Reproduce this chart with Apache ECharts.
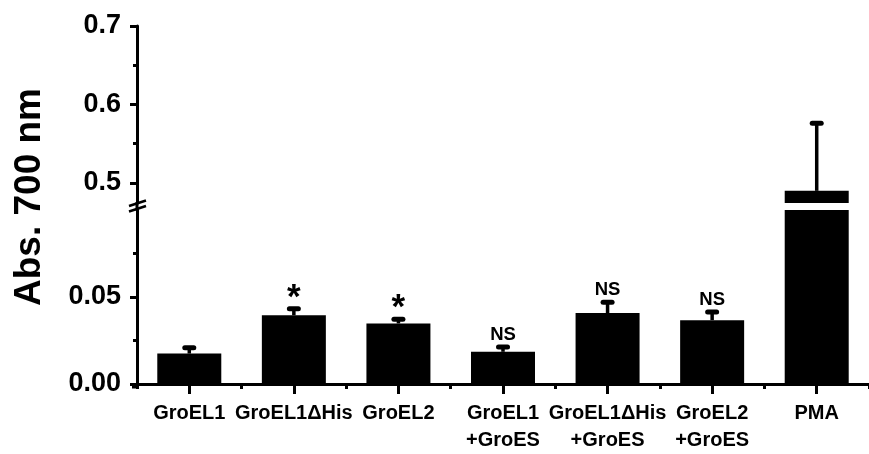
<!DOCTYPE html>
<html><head><meta charset="utf-8">
<script src="https://cdn.jsdelivr.net/npm/echarts@6/dist/echarts.min.js"></script>
<style>html,body{margin:0;padding:0;background:#fff}#c{width:869px;height:454px}</style>
</head><body><div id="c"></div>
<script>
const categories = ['GroEL1', 'GroEL1\u0394His', 'GroEL2', 'GroEL1\n+GroES', 'GroEL1\u0394His\n+GroES', 'GroEL2\n+GroES', 'PMA'];
const means = [0.0175, 0.0395, 0.0348, 0.0185, 0.0408, 0.0367, 0.49];
const sems = [0.0033, 0.0038, 0.0024, 0.0028, 0.0062, 0.0047, 0.086];
const marks = ['', '*', '*', 'NS', 'NS', 'NS', ''];
const lowerRange = [0, 0.1];
const upperRange = [0.4745, 0.7];
const lowerTicks = [0, 0.05];
const lowerMinor = [0.025, 0.075];
const upperTicks = [0.5, 0.6, 0.7];
const upperMinor = [0.55, 0.65];

const FONT = '"Liberation Sans", Arial, sans-serif';
const chart = echarts.init(document.getElementById('c'), null, {renderer: 'canvas'});

const lowerErr = [], upperErr = [];
means.forEach((m, i) => {
  const item = [i, m, m + sems[i]];
  if (m + sems[i] <= lowerRange[1]) lowerErr.push(item);
  else if (m > upperRange[0]) upperErr.push(item);
});

function renderErr(params, api) {
  const i = api.value(0);
  const p0 = api.coord([i, api.value(1)]);
  const p1 = api.coord([i, api.value(2)]);
  const children = [
    {type: 'line', shape: {x1: p0[0], y1: p0[1], x2: p1[0], y2: p1[1]}, style: {stroke: '#000', lineWidth: 3.5}},
    {type: 'rect', shape: {x: p1[0] - 7, y: p1[1] - 2.5, width: 14, height: 5, r: 2.5}, style: {fill: '#000'}}
  ];
  const t = marks[i];
  if (t === '*') {
    children.push({type: 'text', style: {text: t, x: p1[0], y: p1[1] + 7, align: 'center', verticalAlign: 'bottom',
      font: 'bold 35px ' + FONT, fill: '#000'}});
  } else if (t) {
    children.push({type: 'text', style: {text: t, x: p1[0], y: p1[1] - 3, align: 'center', verticalAlign: 'bottom',
      font: 'bold 18.5px ' + FONT, fill: '#000'}});
  }
  return {type: 'group', children};
}

const axisLineStyle = {show: true, lineStyle: {color: '#000', width: 3}};
const labelStyle = {color: '#000', fontWeight: 'bold', fontFamily: FONT};

chart.setOption({
  animation: false,
  backgroundColor: '#fff',
  grid: [
    {left: 137, right: -5, top: 26, height: 177},
    {left: 137, right: -5, top: 210, height: 177}
  ],
  xAxis: [
    {gridIndex: 0, type: 'category', data: categories, show: false},
    {gridIndex: 1, type: 'category', data: categories, position: 'bottom',
      axisLine: axisLineStyle,
      axisTick: {show: true, alignWithLabel: true, length: 10, lineStyle: {color: '#000', width: 3}},
      axisLabel: Object.assign({fontSize: 20, lineHeight: 27, margin: 16, interval: 0}, labelStyle)},
    {gridIndex: 1, type: 'category', data: categories, position: 'bottom',
      axisLine: {show: false},
      axisTick: {show: true, length: 5, lineStyle: {color: '#000', width: 3}},
      axisLabel: {show: false}}
  ],
  yAxis: [
    {gridIndex: 0, type: 'value', position: 'left', min: upperRange[0], max: upperRange[1],
      axisLine: axisLineStyle, splitLine: {show: false},
      axisTick: {show: true, customValues: upperTicks, length: 7, lineStyle: {color: '#000', width: 3}},
      axisLabel: Object.assign({customValues: upperTicks, fontSize: 27, margin: 16, formatter: v => v.toFixed(1)}, labelStyle)},
    {gridIndex: 0, type: 'value', position: 'left', min: upperRange[0], max: upperRange[1],
      axisLine: {show: false}, splitLine: {show: false},
      axisTick: {show: true, customValues: upperMinor, length: 4, lineStyle: {color: '#000', width: 3}},
      axisLabel: {show: false}},
    {gridIndex: 1, type: 'value', position: 'left', min: lowerRange[0], max: lowerRange[1],
      axisLine: axisLineStyle, splitLine: {show: false},
      axisTick: {show: true, customValues: lowerTicks, length: 7, lineStyle: {color: '#000', width: 3}},
      axisLabel: Object.assign({customValues: lowerTicks, fontSize: 27, margin: 16, formatter: v => v.toFixed(2)}, labelStyle)},
    {gridIndex: 1, type: 'value', position: 'left', min: lowerRange[0], max: lowerRange[1],
      axisLine: {show: false}, splitLine: {show: false},
      axisTick: {show: true, customValues: lowerMinor, length: 4, lineStyle: {color: '#000', width: 3}},
      axisLabel: {show: false}}
  ],
  series: [
    {type: 'bar', xAxisIndex: 1, yAxisIndex: 2, data: means, barWidth: 64, clip: true,
      itemStyle: {color: '#000'}, z: 2},
    {type: 'bar', xAxisIndex: 0, yAxisIndex: 0, data: means.map(v => v > upperRange[0] ? v : '-'),
      barWidth: 64, clip: true, itemStyle: {color: '#000'}, z: 2},
    {type: 'custom', xAxisIndex: 1, yAxisIndex: 2, data: lowerErr, renderItem: renderErr, clip: false, z: 3},
    {type: 'custom', xAxisIndex: 0, yAxisIndex: 0, data: upperErr, renderItem: renderErr, clip: false, z: 3}
  ],
  graphic: [
    {type: 'text', x: 30, y: 197, rotation: Math.PI / 2,
      style: {text: 'Abs. 700 nm', font: 'bold 37px ' + FONT, fill: '#000', align: 'center', verticalAlign: 'middle'}},
    {type: 'line', shape: {x1: 137, y1: 202, x2: 137, y2: 211}, style: {stroke: '#000', lineWidth: 3}},
    {type: 'line', shape: {x1: 129, y1: 206, x2: 146, y2: 200.5}, style: {stroke: '#000', lineWidth: 2.5}},
    {type: 'line', shape: {x1: 129, y1: 211.5, x2: 146, y2: 206}, style: {stroke: '#000', lineWidth: 2.5}},
    {type: 'line', shape: {x1: 132, y1: 387, x2: 137, y2: 387}, style: {stroke: '#000', lineWidth: 3}}
  ]
});
</script>
</body></html>
